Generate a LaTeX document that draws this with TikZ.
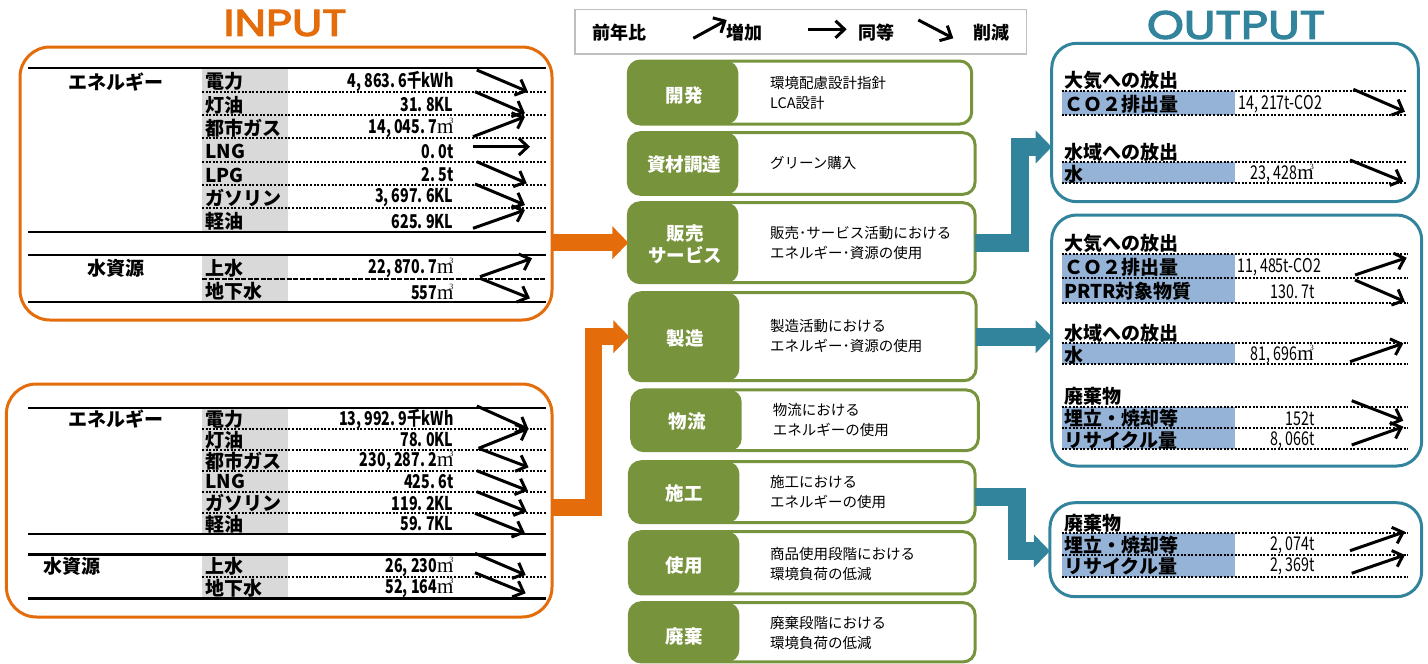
\documentclass[tikz,border=0pt]{standalone}
\usepackage{fontspec}
\usepackage{graphicx}
\setmainfont{Noto Sans CJK JP}
\newfontfamily\numfont[FakeStretch=0.75]{Noto Sans CJK JP}
\newfontfamily\titlefont[FakeBold=3]{Poppins}
\newfontfamily\mfont{Liberation Serif}
\usetikzlibrary{arrows.meta}
\definecolor{orng}{HTML}{E46C0A}
\definecolor{teal2}{HTML}{31849B}
\definecolor{olive2}{HTML}{77933C}
\definecolor{barblue}{HTML}{95B3D7}
\definecolor{gray2}{HTML}{D9D9D9}
\definecolor{legbd}{HTML}{BFBFBF}
\newcommand\cubm{{\mfont\mdseries\fontsize{21}{21}\selectfont m}\llap{\raisebox{10pt}{\mfont\mdseries\fontsize{8}{8}\selectfont 3}}}
\tikzset{
 tline/.style={line width=2.5pt},
 dline/.style={line width=2pt, dash pattern=on 2pt off 1.6pt},
 dashline/.style={line width=2pt, dash pattern=on 5pt off 1.5pt},
 tarw/.style={line width=3pt, -{Straight Barb[length=9pt,width=17pt]}},
 rowlbl/.style={anchor=west, inner sep=0pt, font=\fontsize{19}{19}\selectfont\bfseries},
 rowval/.style={anchor=east, inner sep=0pt, font=\numfont\fontsize{19}{19}\selectfont\bfseries},
 oval/.style={anchor=east, inner sep=0pt, font=\numfont\fontsize{19}{19}\selectfont},
 ovalw/.style={oval, anchor=west},
 ibox/.style={draw=orng, line width=3pt, rounded corners=30pt, inner sep=0pt, outer sep=0pt},
 obox/.style={draw=teal2, line width=3pt, rounded corners=25pt, inner sep=0pt, outer sep=0pt},
 gbox/.style={draw=olive2, line width=3pt, rounded corners=12pt, inner sep=0pt, outer sep=0pt,
   path picture={\fill[olive2] (path picture bounding box.south west) rectangle ([xshift=110pt]path picture bounding box.north west);}},
 glbl/.style={text=white, font=\fontsize{18.5}{22}\selectfont\bfseries, align=center, inner sep=0pt},
 gdesc/.style={anchor=west, align=left, inner sep=0pt, font=\fontsize{14.5}{20}\selectfont},
 bigo/.style={draw=orng, line width=17pt, line join=miter, -{Triangle[length=16pt,width=32pt]}},
 bigt/.style={draw=teal2, line width=18pt, line join=miter, -{Triangle[length=16pt,width=32pt]}},
 leglbl/.style={inner sep=0pt, font=\fontsize{18}{18}\selectfont\bfseries},
}
\begin{document}
\begin{tikzpicture}[x=1pt,y=-1pt]
\useasboundingbox (0,0) rectangle (1428,664);

% titles
\node[text=orng, inner sep=0pt] (tin) at (285,23) {\resizebox{123pt}{26pt}{\titlefont INPUT}};
\node[text=teal2, inner sep=0pt] (tout) at (1236,25) {\resizebox{178pt}{28pt}{\titlefont OUTPUT}};

% ===== input box 1 =====
\node[ibox, minimum width=532pt, minimum height=273pt] (in1) at (286,183.5) {};
\fill[gray2] (202,68) rectangle (287.5,232);
\fill[gray2] (202,255) rectangle (287.5,302);
\foreach \y in {68,232,255,302} \draw[tline] (28,\y) -- (546,\y);
\foreach \y in {91.7,115,138,161.7,185,208} \draw[dline] (202,\y) -- (546,\y);
\draw[dashline] (202,278.7) -- (546,278.7);
\node[rowlbl, anchor=center] (ae) at (116,81.7) {エネルギー};
\node[rowlbl, anchor=center] (aw) at (116,268) {水資源};
\foreach \n/\y/\lab/\v in {1/81.7/電力/{4,\,863.\,6千kWh}, 2/105/灯油/{31.\,8KL}, 3/128/都市ガス/{14,\,045.\,7\cubm}, 4/151.7/LNG/{0.\,0t}, 5/175/LPG/{2.\,5t}, 6/198/ガソリン/{3,\,697.\,6KL}, 7/221.7/軽油/{625.\,9KL}, 8/268/上水/{22,\,870.\,7\cubm}, 9/291.7/地下水/{557\cubm}}{
 \node[rowlbl] (al\n) at (205,\y) {\lab};
 \node[rowval] (av\n) at (453.6,\y) {\v};
}
\foreach \a/\b/\c/\d in {476.8/70/527.9/91.7, 475/91.7/525/113.3, 473/136.7/525/116.7, 473/146.7/530/146.7, 476.8/161.7/526.8/183.3, 475/184/525/205, 473/228.3/525/210, 480/276.7/532/258.3, 480/278.3/530/298.3}
 \draw[tarw] (\a,\b) -- (\c,\d);

% ===== input box 2 =====
\node[ibox, minimum width=545.6pt, minimum height=233pt] (in2) at (279.2,500.5) {};
\fill[gray2] (202,408) rectangle (287.5,534);
\fill[gray2] (202,554.7) rectangle (287.5,598.3);
\foreach \y in {408,534,554.7,598.3} \draw[tline] (28,\y) -- (546,\y);
\foreach \y in {429,450,470.7,491.7,512.7,576.7} \draw[dline] (202,\y) -- (546,\y);
\node[rowlbl, anchor=center] (be) at (116,419) {エネルギー};
\node[rowlbl, anchor=center] (bw) at (72,566.7) {水資源};
\foreach \n/\y/\lab/\v in {1/419.3/電力/{13,\,992.\,9千kWh}, 2/440/灯油/{78.\,0KL}, 3/461/都市ガス/{230,\,287.\,2\cubm}, 4/481.7/LNG/{425.\,6t}, 5/503.3/ガソリン/{119.\,2KL}, 6/524/軽油/{59.\,7KL}, 7/566.7/上水/{26,\,230\cubm}, 8/588.3/地下水/{52,\,164\cubm}}{
 \node[rowlbl] (bl\n) at (205,\y) {\lab};
 \node[rowval] (bv\n) at (453.6,\y) {\v};
}
\foreach \a/\b/\c/\d in {476.8/406/528.6/429.3, 478.6/448.3/528.6/428.3, 478.6/448.3/528.6/467.3, 476.8/470.7/527.9/490.7, 476.8/491.7/526.8/511.7, 475/513.3/525/533.3, 475/553.3/525.7/575, 475/572.7/525.7/593.3}
 \draw[tarw] (\a,\b) -- (\c,\d);

% ===== legend =====
\node[draw=legbd, line width=1.5pt, minimum width=451.7pt, minimum height=44.7pt, inner sep=0pt] (legend) at (800.8,31.7) {};
\node[leglbl] (lg0) at (619.5,33) {前年比};
\node[leglbl] (lg1) at (744,33) {増加};
\node[leglbl] (lg2) at (876.5,33) {同等};
\node[leglbl] (lg3) at (991.5,33) {削減};
\draw[tarw] (693.3,38.3) -- (726.7,20);
\draw[tarw] (808.3,29.3) -- (846.7,29.3);
\draw[tarw] (918.3,20) -- (953.3,38.3);

% ===== green process boxes =====
\node[gbox, minimum width=343.4pt, minimum height=63pt] (kaihatsu) at (800,92.5) {};
\node[gbox, minimum width=346.7pt, minimum height=61.6pt] (shizai) at (801.7,163.5) {};
\node[gbox, minimum width=346.7pt, minimum height=80pt] (hanbai) at (801.7,242.7) {};
\node[gbox, minimum width=346.7pt, minimum height=88pt] (seizo) at (802.7,336.7) {};
\node[gbox, minimum width=346.6pt, minimum height=60.7pt] (butsuryu) at (805,420.3) {};
\node[gbox, minimum width=345.7pt, minimum height=61pt] (sekou) at (802.2,492.2) {};
\node[gbox, minimum width=345.7pt, minimum height=62.3pt] (shiyou) at (802.2,562.8) {};
\node[gbox, minimum width=345.7pt, minimum height=59.3pt] (haiki) at (802.2,632.3) {};

\node[glbl] (gl1) at (684,96) {開発};
\node[glbl] (gl2) at (684,165) {資材調達};
\node[glbl] (gl3) at (685,244) {販売\\サービス};
\node[glbl] (gl4) at (685,338) {製造};
\node[glbl] (gl5) at (687,421.7) {物流};
\node[glbl] (gl6) at (684,493.3) {施工};
\node[glbl] (gl7) at (684,565) {使用};
\node[glbl] (gl8) at (684,636.7) {廃棄};

\node[gdesc] (gd1) at (770,93.3) {環境配慮設計指針\\LCA設計};
\node[gdesc] (gd2) at (770,163.3) {グリーン購入};
\node[gdesc] (gd3) at (770,243.3) {販売･サービス活動における\\エネルギー･資源の使用};
\node[gdesc] (gd4) at (770,336.3) {製造活動における\\エネルギー･資源の使用};
\node[gdesc] (gd5) at (772.7,420) {物流における\\エネルギーの使用};
\node[gdesc] (gd6) at (770,491.7) {施工における\\エネルギーの使用};
\node[gdesc] (gd7) at (770,564) {商品使用段階における\\環境負荷の低減};
\node[gdesc] (gd8) at (770,633.3) {廃棄段階における\\環境負荷の低減};

% ===== output boxes =====
\node[obox, minimum width=366.6pt, minimum height=158.4pt] (out1) at (1235,122.5) {};
\node[obox, minimum width=370pt, minimum height=251pt] (out2) at (1236.7,340.5) {};
\node[obox, minimum width=371.7pt, minimum height=94pt] (out3) at (1235.8,549.7) {};

\fill[barblue] (1061.7,90.7) rectangle (1235,115);
\fill[barblue] (1061.7,162.3) rectangle (1235,183.3);
\fill[barblue] (1061.7,254.3) rectangle (1235,302.7);
\fill[barblue] (1061.7,343.3) rectangle (1235,364);
\fill[barblue] (1061.7,407.3) rectangle (1235,449.3);
\fill[barblue] (1061.7,533.3) rectangle (1235,576.7);
\foreach \y in {90.7,115,162.3,183.3} \draw[dline] (1061.7,\y) -- (1406.7,\y);
\foreach \y in {254.3,278.3,302.7,343.3,364,407.3,428.3,449.3,533.3,555,576.7} \draw[dline] (1061.7,\y) -- (1408,\y);

\node[rowlbl] (o1h1) at (1064,80) {大気への放出};
\node[rowlbl] (o1r1) at (1064,104) {ＣＯ２排出量};
\node[ovalw] (o1v1) at (1238,104) {14,\,217t-CO2};
\node[rowlbl] (o1h2) at (1064,152) {水域への放出};
\node[rowlbl] (o1r2) at (1064,174) {水};
\node[oval] (o1v2) at (1314,174) {23,\,428\cubm};

\node[rowlbl] (o2h1) at (1064,243) {大気への放出};
\node[rowlbl] (o2r1) at (1064,267.5) {ＣＯ２排出量};
\node[ovalw] (o2v1) at (1237,267.5) {11,\,485t-CO2};
\node[rowlbl] (o2r2) at (1064,291.7) {PRTR対象物質};
\node[oval] (o2v2) at (1315,291.7) {130.\,7t};
\node[rowlbl] (o2h2) at (1064,333) {水域への放出};
\node[rowlbl] (o2r3) at (1064,355) {水};
\node[oval] (o2v3) at (1314,355) {81,\,696\cubm};
\node[rowlbl] (o2h3) at (1064,396) {廃棄物};
\node[rowlbl] (o2r4) at (1064,418.3) {埋立・焼却等};
\node[oval] (o2v4) at (1315,418.3) {152t};
\node[rowlbl] (o2r5) at (1064,440) {リサイクル量};
\node[oval] (o2v5) at (1315,440) {8,\,066t};

\node[rowlbl] (o3h1) at (1064,523) {廃棄物};
\node[rowlbl] (o3r1) at (1064,545) {埋立・焼却等};
\node[oval] (o3v1) at (1315,545) {2,\,074t};
\node[rowlbl] (o3r2) at (1064,566.7) {リサイクル量};
\node[oval] (o3v2) at (1315,566.7) {2,\,369t};

\foreach \a/\b/\c/\d in {1353.3/89.3/1405/111.7, 1350/160/1403.3/181.7, 1355/275/1406.7/257.7, 1355/280/1405/301.7, 1350/361.7/1403.3/343.3, 1351.7/400.7/1403.3/420.7, 1351.7/445/1403.3/426.7, 1350/550.7/1405/531.7, 1351.7/573.3/1405/555}
 \draw[tarw] (\a,\b) -- (\c,\d);

% ===== big connectors =====
\draw[bigo] (in1.east |- hanbai.west) -- (hanbai.west);
\draw[bigo] ([yshift=-6.5pt]in2.east) -| ([xshift=-36pt]seizo.west) -- (seizo.west);
\draw[bigt] (hanbai.east) -| (1020,147) -- (out1.west |- 0,147);
\draw[bigt] (seizo.east) -- (out2.west |- seizo.east);
\draw[bigt] ([yshift=-5pt]sekou.east) -| (1017,551) -- (out3.west |- 0,551);
\end{tikzpicture}
\end{document}
